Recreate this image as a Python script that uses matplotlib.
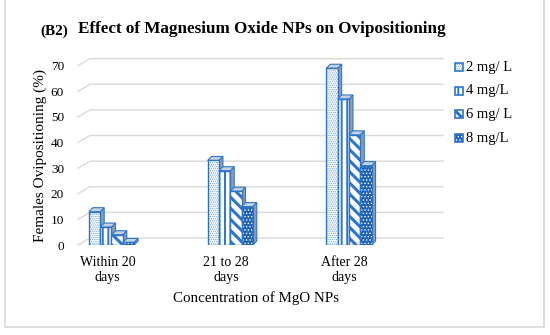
import matplotlib as mpl
import matplotlib.pyplot as plt
from matplotlib.patches import Rectangle, Polygon
import numpy as np

plt.rcParams['font.family'] = ['Liberation Serif', 'DejaVu Serif']

categories = ['Within 20\ndays', '21 to 28\ndays', 'After 28\ndays']
series = ['2 mg/ L', '4 mg/L', '6 mg/ L', '8 mg/L']
values = {
    '2 mg/ L': [13, 33, 69],
    '4 mg/L': [7, 29, 57],
    '6 mg/ L': [4, 21, 43],
    '8 mg/L': [1, 15, 31],
}
yticks = [0, 10, 20, 30, 40, 50, 60, 70]

blue = '#2E75C9'
dark = '#1F63B8'
styles = {
    '2 mg/ L': dict(face='white', hatch='........', hcolor='#6A9FDA', hlw=0.6),
    '4 mg/L': dict(face='white', hatch='|||', hcolor=blue, hlw=1.4),
    '6 mg/ L': dict(face='white', hatch='\\\\\\', hcolor=blue, hlw=2.2),
    '8 mg/L': dict(face=dark, hatch='.....', hcolor='white', hlw=0.6),
}


def hatched(xy, w, h, st, **kw):
    with mpl.rc_context({'hatch.linewidth': st['hlw']}):
        return Rectangle(xy, w, h, facecolor=st['face'], edgecolor=st['hcolor'],
                         hatch=st['hatch'], lw=0, **kw)


W, H = 550, 335
fig = plt.figure(figsize=(W / 100, H / 100), dpi=100)
ax_l, ax_r, ax_b, ax_t = 78, 443, 245, 58
ax = fig.add_axes([ax_l / W, (H - ax_b) / H, (ax_r - ax_l) / W, (ax_b - ax_t) / H])
xlo, xhi = -0.282, 2.792
ylo, yhi = 0, 73
ax.set_xlim(xlo, xhi)
ax.set_ylim(ylo, yhi)
for s in ax.spines.values():
    s.set_visible(False)

pxx = (ax_r - ax_l) / (xhi - xlo)   # px per x unit
pxy = (ax_b - ax_t) / (yhi - ylo)   # px per y unit

# perspective gridlines (back wall)
gdx, gdy = 12 / pxx, 7 / pxy
for v in yticks:
    ax.plot([xlo, xlo + gdx, xhi], [v, v + gdy, v + gdy], color='#d9d9d9',
            lw=1, zorder=0, clip_on=False)

# 3D-looking bars
bw = 11.3 / pxx
ddx, ddy = 4 / pxx, 4 / pxy
z = 2
for c in range(len(categories)):
    for i, s in enumerate(series):
        v = values[s][c]
        st = styles[s]
        x0 = c - 2 * bw + i * bw
        side = [(x0 + bw, 0), (x0 + bw + ddx, ddy), (x0 + bw + ddx, v + ddy), (x0 + bw, v)]
        top = [(x0, v), (x0 + bw, v), (x0 + bw + ddx, v + ddy), (x0 + ddx, v + ddy)]
        ax.add_patch(Polygon(side, closed=True, facecolor='#8e9db3', edgecolor=blue,
                             lw=0.8, zorder=z))
        ax.add_patch(Polygon(top, closed=True, facecolor='#c5d2e3', edgecolor=blue,
                             lw=0.8, zorder=z))
        ax.add_patch(hatched((x0, 0), bw, v, st, zorder=z + 0.1))
        ax.add_patch(Rectangle((x0, 0), bw, v, facecolor='none', edgecolor=blue,
                               lw=1.0, zorder=z + 0.2))
        z += 1

ax.set_yticks(yticks)
ax.set_yticklabels([str(v) for v in yticks], fontsize=9.5)
ax.tick_params(axis='y', length=0, pad=10)
ax.set_xticks(np.arange(len(categories)) - 0.035)
ax.set_xticklabels(categories, fontsize=10, linespacing=1.15)
ax.tick_params(axis='x', length=0, pad=8)

fig.text(40 / W, 1 - 156 / H, 'Females Ovipositioning (%)', rotation=90,
         ha='center', va='center', fontsize=11)
fig.text(256 / W, 1 - 298 / H, 'Concentration of MgO NPs', ha='center',
         va='center', fontsize=10.8)
fig.text(78 / W, 1 - 33 / H, 'Effect of Magnesium Oxide NPs on Ovipositioning',
         fontsize=12.3, fontweight='bold', va='baseline')
fig.text(40 / W, 1 - 35 / H, '(B2)', fontsize=11, fontweight='bold', va='baseline')

# legend
for k, s in enumerate(series):
    yc = 67 + k * 23.7
    st = styles[s]
    pos = (455 / W, 1 - (yc + 4) / H)
    fig.add_artist(hatched(pos, 8 / W, 8 / H, st, transform=fig.transFigure))
    fig.add_artist(Rectangle(pos, 8 / W, 8 / H, facecolor='none', edgecolor=blue,
                             lw=1.2, transform=fig.transFigure))
    fig.text(466 / W, 1 - yc / H, s, fontsize=10.5, va='center')

# chart border
fig.add_artist(Rectangle((5 / W, 8 / H), 539 / W, 1.2, facecolor='none',
                         edgecolor='#d9d9d9', lw=1.2, transform=fig.transFigure))

fig.savefig('out.png', dpi=100)
